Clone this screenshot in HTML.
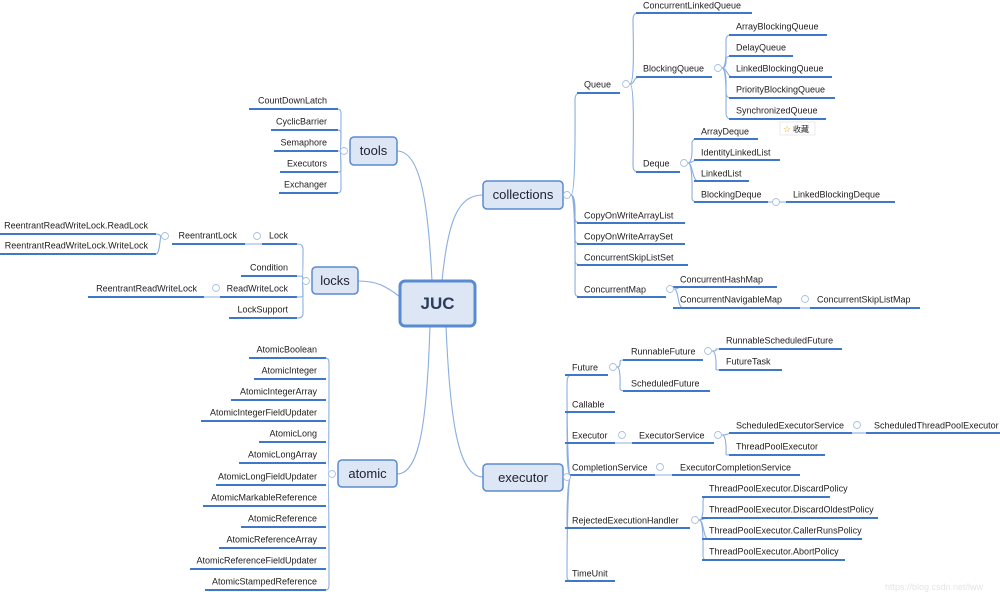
<!DOCTYPE html>
<html><head><meta charset="utf-8"><style>
html,body{margin:0;padding:0;background:#fff;width:1000px;height:592px;overflow:hidden}
svg{display:block}
text{font-family:"Liberation Sans",sans-serif;font-size:9px;fill:#222}
.e{text-anchor:end}
.c{fill:none;stroke:#8aaee0;stroke-width:1.1}
.u{stroke:#3f78c8;stroke-width:2}
.b{fill:#dce6f4;stroke:#5a8bd0;stroke-width:1.5}
.k{fill:#fff;stroke:#a8c0e4;stroke-width:0.9}
.big{font-size:13px;fill:#223}
</style></head><body>
<svg width="1000" height="592" viewBox="0 0 1000 592">
<!-- main connectors -->
<path class="c" d="M442 281 C448 220 458 195 483 195"/>
<path class="c" d="M446 326 C450 420 458 477 483 477"/>
<path class="c" d="M432 281 C428 200 420 151 397 151"/>
<path class="c" d="M400 297 C385 285 375 281 358 281"/>
<path class="c" d="M430 326 C427 420 420 474 397 474"/>

<!-- boxes -->
<rect class="b" x="400" y="281" width="75" height="45" rx="5" style="stroke-width:3"/>
<text x="437.5" y="309" class="big" style="font-size:17px;font-weight:bold;text-anchor:middle;fill:#2c3e5c">JUC</text>
<rect class="b" x="483" y="181" width="80" height="28" rx="4"/>
<text x="523" y="199" class="big" style="text-anchor:middle">collections</text>
<rect class="b" x="483" y="464" width="80" height="27" rx="4"/>
<text x="523" y="482" class="big" style="text-anchor:middle">executor</text>
<rect class="b" x="350" y="137" width="47" height="28" rx="4"/>
<text x="373.5" y="155" class="big" style="text-anchor:middle">tools</text>
<rect class="b" x="312" y="267" width="46" height="27" rx="4"/>
<text x="335" y="285" class="big" style="text-anchor:middle">locks</text>
<rect class="b" x="338" y="460" width="59" height="27" rx="4"/>
<text x="367.5" y="478" class="big" style="text-anchor:middle">atomic</text>

<!-- collections -->
<g>
<path class="c" d="M571 195 C576 195 575 110 575 100 C575 94 577 93 583 93"/>
<path class="c" d="M571 195 C576 195 575 215 575 218 C575 222 577 223 583 223"/>
<path class="c" d="M571 195 C576 195 575 236 575 239 C575 243 577 244 583 244"/>
<path class="c" d="M571 195 C576 195 575 257 575 260 C575 264 577 265 583 265"/>
<path class="c" d="M571 195 C576 195 575 290 575 292 C575 296 577 297 583 297"/>
<line class="u" x1="577" y1="93" x2="620" y2="93"/><text x="584" y="87.5">Queue</text>
<line class="u" x1="577" y1="223" x2="685" y2="223"/><text x="584" y="218.5">CopyOnWriteArrayList</text>
<line class="u" x1="577" y1="244" x2="685" y2="244"/><text x="584" y="239.5">CopyOnWriteArraySet</text>
<line class="u" x1="577" y1="265" x2="688" y2="265"/><text x="584" y="260.5">ConcurrentSkipListSet</text>
<line class="u" x1="577" y1="297" x2="666" y2="297"/><text x="584" y="292.5">ConcurrentMap</text>
<!-- Queue children -->
<path class="c" d="M630 84 C635 84 633 30 633 20 C633 14 635 13 640 13"/>
<path class="c" d="M630 84 C635 84 633 77 640 77"/>
<path class="c" d="M630 84 C635 84 633 150 633 165 C633 171 635 172 640 172"/>
<line class="u" x1="636" y1="13" x2="752" y2="13"/><text x="643" y="8.5">ConcurrentLinkedQueue</text>
<line class="u" x1="636" y1="77" x2="712" y2="77"/><text x="643" y="71.5">BlockingQueue</text>
<line class="u" x1="636" y1="172" x2="680" y2="172"/><text x="643" y="166.5">Deque</text>
<!-- BlockingQueue children -->
<path class="c" d="M722 68 C727 68 726 45 726 40 C726 36 728 35 733 35"/>
<path class="c" d="M722 68 C727 68 726 59 726 59 C726 57 728 56 733 56"/>
<path class="c" d="M722 68 C727 68 727 77 733 77"/>
<path class="c" d="M722 68 C727 68 726 88 726 92 C726 97 728 98 733 98"/>
<path class="c" d="M722 68 C727 68 726 105 726 112 C726 118 728 119 733 119"/>
<line class="u" x1="729" y1="35" x2="827" y2="35"/><text x="736" y="29.5">ArrayBlockingQueue</text>
<line class="u" x1="729" y1="56" x2="793" y2="56"/><text x="736" y="50.5">DelayQueue</text>
<line class="u" x1="729" y1="77" x2="832" y2="77"/><text x="736" y="71.5">LinkedBlockingQueue</text>
<line class="u" x1="729" y1="98" x2="835" y2="98"/><text x="736" y="92.5">PriorityBlockingQueue</text>
<line class="u" x1="729" y1="119" x2="826" y2="119"/><text x="736" y="113.5">SynchronizedQueue</text>
<rect x="780" y="122" width="35" height="13" fill="#fff" stroke="#e6e6e6" stroke-width="0.8"/>
<text x="783" y="132" style="font-size:9px;fill:#e8a020">☆</text>
<text x="793" y="132" style="font-family:'Liberation Sans','Noto Sans CJK SC',sans-serif;font-size:8px">收藏</text>
<!-- Deque children -->
<path class="c" d="M688 163 C693 163 692 145 692 143 C692 140 694 139 698 139"/>
<path class="c" d="M688 163 C693 163 692 160 698 160"/>
<path class="c" d="M688 163 C693 163 692 181 698 181"/>
<path class="c" d="M688 163 C693 163 692 195 692 198 C692 201 694 202 698 202"/>
<line class="u" x1="694" y1="139" x2="758" y2="139"/><text x="701" y="134.5">ArrayDeque</text>
<line class="u" x1="694" y1="160" x2="780" y2="160"/><text x="701" y="155.5">IdentityLinkedList</text>
<line class="u" x1="694" y1="181" x2="749" y2="181"/><text x="701" y="176.5">LinkedList</text>
<line class="u" x1="694" y1="202" x2="768" y2="202"/><text x="701" y="197.5">BlockingDeque</text>
<line class="c" x1="768" y1="202" x2="786" y2="202"/>
<line class="u" x1="786" y1="202" x2="895" y2="202"/><text x="793" y="197.5">LinkedBlockingDeque</text>
<!-- ConcurrentMap children -->
<path class="c" d="M674 289 C679 289 677 287 683 287"/>
<path class="c" d="M674 289 C679 289 677 307 683 308"/>
<line class="u" x1="673" y1="287" x2="777" y2="287"/><text x="680" y="282.5">ConcurrentHashMap</text>
<line class="u" x1="673" y1="308" x2="800" y2="308"/><text x="680" y="302.5">ConcurrentNavigableMap</text>
<line class="c" x1="800" y1="308" x2="810" y2="308"/>
<line class="u" x1="810" y1="308" x2="920" y2="308"/><text x="817" y="302.5">ConcurrentSkipListMap</text>
</g>
<circle class="k" cx="567" cy="195" r="3.5"/><circle class="k" cx="626" cy="84" r="3.5"/>
<circle class="k" cx="718" cy="68" r="3.5"/><circle class="k" cx="684" cy="163" r="3.5"/>
<circle class="k" cx="776" cy="202" r="3.5"/><circle class="k" cx="670" cy="289" r="3.5"/>
<circle class="k" cx="805" cy="299" r="3.5"/>

<!-- executor -->
<g>
<path class="c" d="M571 477 C567 477 567 400 567 385 C567 377 568 375 572 375"/>
<path class="c" d="M571 477 C567 477 567 420 567 416 C567 413 568 412 572 412"/>
<path class="c" d="M571 477 C567 477 567 447 567 446 C567 444 568 443 572 443"/>
<path class="c" d="M571 477 C567 477 567 475 572 475"/>
<path class="c" d="M571 477 C567 477 567 520 567 524 C567 527 568 528 572 528"/>
<path class="c" d="M571 477 C567 477 567 565 567 575 C567 580 568 581 572 581"/>
<line class="u" x1="565" y1="375" x2="608" y2="375"/><text x="572" y="370.5">Future</text>
<line class="u" x1="565" y1="412" x2="615" y2="412"/><text x="572" y="407.5">Callable</text>
<line class="u" x1="565" y1="443" x2="615" y2="443"/><text x="572" y="438.5">Executor</text>
<line class="u" x1="565" y1="475" x2="655" y2="475"/><text x="572" y="470.5">CompletionService</text>
<line class="u" x1="565" y1="528" x2="690" y2="528"/><text x="572" y="523.5">RejectedExecutionHandler</text>
<line class="u" x1="565" y1="581" x2="615" y2="581"/><text x="572" y="576.5">TimeUnit</text>
<!-- Future -->
<path class="c" d="M617 367 C621 367 620 362 620 362 C620 360 621 360 626 360"/>
<path class="c" d="M617 367 C621 367 620 385 620 388 C620 390 621 391 626 391"/>
<line class="u" x1="623" y1="360" x2="703" y2="360"/><text x="631" y="354.5">RunnableFuture</text>
<line class="u" x1="623" y1="391" x2="710" y2="391"/><text x="631" y="386.5">ScheduledFuture</text>
<path class="c" d="M712 351 C717 351 716 350 716 349 C716 349 717 349 721 349"/>
<path class="c" d="M712 351 C717 351 716 368 716 369 C716 370 717 370 721 370"/>
<line class="u" x1="719" y1="349" x2="842" y2="349"/><text x="726" y="343.5">RunnableScheduledFuture</text>
<line class="u" x1="719" y1="370" x2="782" y2="370"/><text x="726" y="364.5">FutureTask</text>
<!-- Executor -->
<line class="c" x1="615" y1="443" x2="632" y2="443"/>
<line class="u" x1="632" y1="443" x2="714" y2="443"/><text x="639" y="438.5">ExecutorService</text>
<path class="c" d="M722 435 C727 435 726 434 732 433"/>
<path class="c" d="M722 435 C727 435 726 453 726 454 C726 455 727 455 732 455"/>
<line class="u" x1="729" y1="433" x2="852" y2="433"/><text x="736" y="428.5">ScheduledExecutorService</text>
<line class="u" x1="729" y1="455" x2="825" y2="455"/><text x="736" y="449.5">ThreadPoolExecutor</text>
<line class="c" x1="852" y1="433" x2="866" y2="433"/>
<line class="u" x1="866" y1="433" x2="1000" y2="433"/><text x="874" y="428.5">ScheduledThreadPoolExecutor</text>
<line class="c" x1="655" y1="475" x2="672" y2="475"/>
<line class="u" x1="672" y1="475" x2="800" y2="475"/><text x="680" y="470.5">ExecutorCompletionService</text>
<!-- Rejected -->
<path class="c" d="M699 520 C704 520 703 505 703 502 C703 498 704 497 708 497"/>
<path class="c" d="M699 520 C704 520 703 518 708 518"/>
<path class="c" d="M699 520 C704 520 703 538 708 539"/>
<path class="c" d="M699 520 C704 520 703 550 703 555 C703 559 704 560 708 560"/>
<line class="u" x1="702" y1="497" x2="830" y2="497"/><text x="709" y="491.5">ThreadPoolExecutor.DiscardPolicy</text>
<line class="u" x1="702" y1="518" x2="878" y2="518"/><text x="709" y="512.5">ThreadPoolExecutor.DiscardOldestPolicy</text>
<line class="u" x1="702" y1="539" x2="862" y2="539"/><text x="709" y="533.5">ThreadPoolExecutor.CallerRunsPolicy</text>
<line class="u" x1="702" y1="560" x2="845" y2="560"/><text x="709" y="554.5">ThreadPoolExecutor.AbortPolicy</text>
</g>
<circle class="k" cx="567" cy="477" r="3.5"/><circle class="k" cx="613" cy="367" r="3.5"/>
<circle class="k" cx="708" cy="351" r="3.5"/><circle class="k" cx="622" cy="435" r="3.5"/>
<circle class="k" cx="718" cy="435" r="3.5"/><circle class="k" cx="857" cy="425" r="3.5"/>
<circle class="k" cx="660" cy="467" r="3.5"/><circle class="k" cx="695" cy="520" r="3.5"/>

<!-- tools -->
<g>
<path class="c" d="M340 151 C341 151 341 120 341 114 C341 110 340 109 336 109"/>
<path class="c" d="M340 151 C341 151 341 133 341 132 C341 131 340 130 336 130"/>
<path class="c" d="M340 151 C341 151 340 151 336 151"/>
<path class="c" d="M340 151 C341 151 341 170 341 170 C341 172 340 172 336 172"/>
<path class="c" d="M340 151 C341 151 341 186 341 189 C341 192 340 193 336 193"/>
<line class="u" x1="249" y1="109" x2="338" y2="109"/><text class="e" x="327" y="103.5">CountDownLatch</text>
<line class="u" x1="271" y1="130" x2="338" y2="130"/><text class="e" x="327" y="124.5">CyclicBarrier</text>
<line class="u" x1="274" y1="151" x2="338" y2="151"/><text class="e" x="327" y="145.5">Semaphore</text>
<line class="u" x1="280" y1="172" x2="338" y2="172"/><text class="e" x="327" y="166.5">Executors</text>
<line class="u" x1="279" y1="193" x2="338" y2="193"/><text class="e" x="327" y="187.5">Exchanger</text>
</g>
<circle class="k" cx="344" cy="151" r="3.5"/>

<!-- locks -->
<g>
<path class="c" d="M302 281 C303 281 303 255 303 250 C303 245 301 244 297 244"/>
<path class="c" d="M302 281 C303 281 303 278 303 278 C303 276 301 276 297 276"/>
<path class="c" d="M302 281 C303 281 303 296 303 296 C303 297 301 297 297 297"/>
<path class="c" d="M302 281 C303 281 303 310 303 313 C303 317 301 318 297 318"/>
<line class="u" x1="262" y1="244" x2="297" y2="244"/><text class="e" x="288" y="238.5">Lock</text>
<line class="u" x1="241" y1="276" x2="297" y2="276"/><text class="e" x="288" y="270.5">Condition</text>
<line class="u" x1="220" y1="297" x2="297" y2="297"/><text class="e" x="288" y="291.5">ReadWriteLock</text>
<line class="u" x1="229" y1="318" x2="297" y2="318"/><text class="e" x="288" y="312.5">LockSupport</text>
<line class="c" x1="245" y1="244" x2="262" y2="244"/>
<line class="u" x1="172" y1="244" x2="245" y2="244"/><text class="e" x="237" y="238.5">ReentrantLock</text>
<path class="c" d="M161 236 C160 236 160 234 156 234"/>
<path class="c" d="M161 236 C160 236 160 254 156 254"/>
<line class="u" x1="0" y1="234" x2="156" y2="234"/><text class="e" x="148" y="228.5">ReentrantReadWriteLock.ReadLock</text>
<line class="u" x1="0" y1="254" x2="156" y2="254"/><text class="e" x="148" y="248.5">ReentrantReadWriteLock.WriteLock</text>
<line class="c" x1="203" y1="297" x2="220" y2="297"/>
<line class="u" x1="88" y1="297" x2="204" y2="297"/><text class="e" x="197" y="291.5">ReentrantReadWriteLock</text>
</g>
<circle class="k" cx="306" cy="281" r="3.5"/><circle class="k" cx="257" cy="236" r="3.5"/>
<circle class="k" cx="165" cy="236" r="3.5"/><circle class="k" cx="216" cy="288" r="3.5"/>

<!-- atomic -->
<g>
<path class="c" d="M328 474 C329 474 329 370 329 364 C329 359 328 358 325 358"/>
<path class="c" d="M328 474 C329 474 329 580 329 585 C329 589 328 590 325 590"/>
<line class="u" x1="249" y1="358" x2="326" y2="358"/><text class="e" x="317" y="352.5">AtomicBoolean</text>
<line class="u" x1="254" y1="379" x2="326" y2="379"/><text class="e" x="317" y="373.5">AtomicInteger</text>
<line class="u" x1="231" y1="400" x2="326" y2="400"/><text class="e" x="317" y="394.5">AtomicIntegerArray</text>
<line class="u" x1="201" y1="421" x2="326" y2="421"/><text class="e" x="317" y="415.5">AtomicIntegerFieldUpdater</text>
<line class="u" x1="259" y1="442" x2="326" y2="442"/><text class="e" x="317" y="436.5">AtomicLong</text>
<line class="u" x1="239" y1="463" x2="326" y2="463"/><text class="e" x="317" y="457.5">AtomicLongArray</text>
<line class="u" x1="216" y1="485" x2="326" y2="485"/><text class="e" x="317" y="479.5">AtomicLongFieldUpdater</text>
<line class="u" x1="203" y1="506" x2="326" y2="506"/><text class="e" x="317" y="500.5">AtomicMarkableReference</text>
<line class="u" x1="241" y1="527" x2="326" y2="527"/><text class="e" x="317" y="521.5">AtomicReference</text>
<line class="u" x1="219" y1="548" x2="326" y2="548"/><text class="e" x="317" y="542.5">AtomicReferenceArray</text>
<line class="u" x1="190" y1="569" x2="326" y2="569"/><text class="e" x="317" y="563.5">AtomicReferenceFieldUpdater</text>
<line class="u" x1="205" y1="590" x2="326" y2="590"/><text class="e" x="317" y="584.5">AtomicStampedReference</text>
</g>
<circle class="k" cx="332" cy="474" r="3.5"/>
<text x="885" y="590" style="font-size:9px;fill:#e4e4e4">https://blog.csdn.net/lww</text>
</svg>
</body></html>
